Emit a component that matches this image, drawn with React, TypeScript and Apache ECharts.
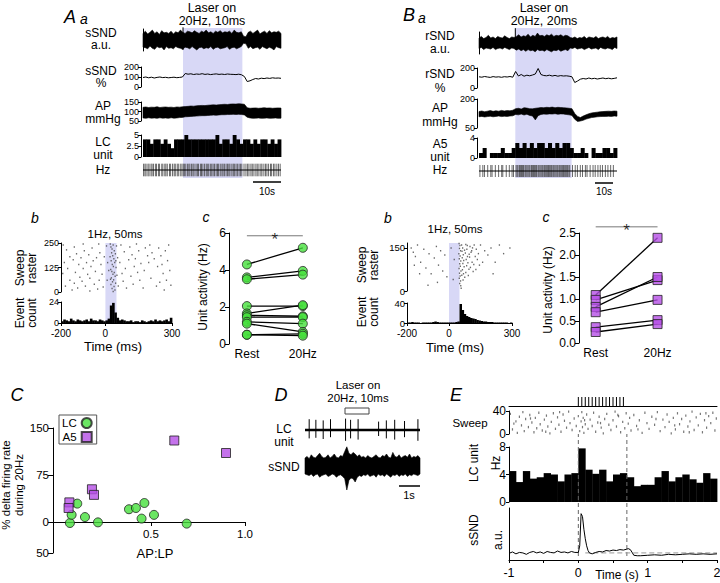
import React, { useEffect, useRef } from 'react';
import * as echarts from 'echarts';

const FONT = '"Liberation Sans", Arial, Helvetica, sans-serif';
const SHADE = '#d8d8f6';
const GREEN = '#46e03c';
const PURPLE = '#b54fe6';
const INK = '#000';

// ================= Panel A a (time 0..50 s) =================
const aaSpan = [0, 50];
const aaLaser = [14.5, 36];
const aaSndHi = [
  0.6, 0.8, 0.55, 0.7, 0.9, 0.6, 0.75, 0.5, 0.85, 0.65,
  0.7, 0.6, 0.8, 0.55, 0.75, 0.65, 0.9, 0.7, 0.6, 0.8,
  0.75, 0.65, 0.85, 0.7, 0.6, 0.8, 0.7, 0.9, 0.65, 0.75,
  0.6, 0.8, 0.7, 0.85, 0.65, 0.75, 0.7, 0.8, 0.6, 0.9,
  0.7, 0.65, 0.75, 0.35, 0.3, 0.7, 0.8, 0.6, 0.75, 0.9,
  0.55, 0.7, 0.8, 0.6, 0.85, 0.65, 0.75, 0.7, 0.8, 0.6];
const aaSndLo = [
  -0.65, -0.7, -0.8, -0.55, -0.75, -0.85, -0.6, -0.7, -0.65, -0.9,
  -0.6, -0.75, -0.7, -0.8, -0.6, -0.7, -0.75, -0.85, -0.65, -0.7,
  -0.8, -0.6, -0.75, -0.9, -0.7, -0.65, -0.8, -0.7, -0.75, -0.6,
  -0.85, -0.7, -0.65, -0.8, -0.75, -0.7, -0.6, -0.85, -0.7, -0.65,
  -0.8, -0.7, -0.6, -0.3, -0.35, -0.75, -0.6, -0.8, -0.7, -0.65,
  -0.85, -0.6, -0.7, -0.8, -0.65, -0.75, -0.9, -0.6, -0.7, -0.75];
const aaPct = [
  95, 100, 92, 98, 90, 96, 100, 94, 97, 92, 95, 98, 93, 96, 100,
  135, 128, 132, 125, 130, 127, 133, 126, 130, 124, 128, 131, 126, 129, 125, 130, 127, 126, 124, 128, 122, 105,
  55, 62, 75, 85, 80, 88, 84, 90, 86, 92, 88, 90, 87];
const aaApHi = [
  122, 124, 121, 123, 122, 125, 121, 123, 124, 122, 123, 121, 124, 123, 125,
  126, 127, 129, 128, 130, 131, 132, 131, 133, 134, 135, 134, 136, 137, 138, 137, 139, 140, 139, 141, 140, 138,
  120, 117, 118, 119, 117, 118, 120, 118, 119, 117, 118, 119, 118];
const aaApLo = [
  66, 64, 67, 65, 66, 64, 67, 65, 66, 64, 67, 65, 66, 68, 69,
  72, 73, 74, 75, 76, 77, 78, 78, 79, 80, 81, 80, 82, 83, 83, 84, 84, 85, 84, 85, 84, 82,
  70, 66, 64, 65, 66, 64, 65, 66, 64, 65, 66, 64, 65];
const aaLcBin = 1.25;
const aaLcHz = [4, 4, 3, 4, 4, 3, 4, 3, 2, 4, 4, 4, 5, 4, 4, 4, 4, 4, 4, 4, 4, 5, 3, 4, 4, 3, 5, 4, 3, 4, 4, 3, 4, 3, 4, 4, 3, 4, 3, 4];
const aaSpikes = [0.2, 0.7, 1.1, 1.8, 2.2, 2.9, 3.3, 3.8, 4.5, 4.9, 5.6, 6.0, 6.8, 7.2, 7.9, 8.3, 8.8, 9.6, 10.0, 10.7, 11.3, 11.7, 12.4, 12.8, 13.5, 14.1, 14.6, 15.0, 15.5, 16.1, 16.6, 17.0, 17.6, 18.1, 18.5, 19.2, 19.7, 20.1, 20.8, 21.2, 21.7, 22.3, 22.9, 23.3, 23.8, 24.4, 24.9, 25.4, 25.9, 26.5, 27.0, 27.4, 28.0, 28.6, 29.0, 29.5, 30.1, 30.6, 31.1, 31.5, 32.2, 32.7, 33.1, 33.7, 34.2, 34.8, 35.3, 35.8, 36.6, 37.3, 37.9, 38.4, 39.1, 39.6, 40.2, 40.9, 41.4, 42.0, 42.7, 43.1, 43.8, 44.4, 44.9, 45.5, 46.2, 46.6, 47.3, 47.8, 48.5, 49.1, 49.7];

// ================= Panel B a (time 0..76 s) =================
const baSpan = [0, 76];
const baLaser = [20, 51];
const baSndHi = [
  0.45, 0.6, 0.4, 0.5, 0.7, 0.45, 0.55, 0.4, 0.6, 0.5,
  0.45, 0.65, 0.5, 0.4, 0.55, 0.5, 0.6, 0.75, 0.55, 0.65,
  0.6, 0.8, 0.55, 0.7, 0.6, 0.9, 0.65, 0.7, 0.6, 0.75,
  0.65, 0.8, 0.6, 0.7, 0.65, 0.75, 0.6, 0.7, 0.65, 0.5,
  0.45, 0.55, 0.4, 0.5, 0.45, 0.6, 0.4, 0.55, 0.5, 0.45,
  0.6, 0.4, 0.5, 0.55, 0.45, 0.6, 0.4, 0.5, 0.45, 0.55];
const baSndLo = [
  -0.5, -0.4, -0.6, -0.45, -0.5, -0.55, -0.4, -0.6, -0.5, -0.45,
  -0.55, -0.4, -0.5, -0.6, -0.45, -0.5, -0.65, -0.55, -0.7, -0.6,
  -0.75, -0.6, -0.7, -0.65, -0.8, -0.6, -0.7, -0.65, -0.75, -0.6,
  -0.7, -0.8, -0.65, -0.7, -0.6, -0.75, -0.65, -0.6, -0.7, -0.45,
  -0.5, -0.4, -0.55, -0.5, -0.45, -0.6, -0.5, -0.4, -0.55, -0.5,
  -0.45, -0.6, -0.4, -0.5, -0.55, -0.45, -0.5, -0.6, -0.4, -0.5];
const baPct = [
  112, 108, 115, 110, 106, 114, 109, 112, 107, 113, 110, 115, 108,
  165, 120, 135, 118, 128, 122, 130, 140, 195, 135, 125, 122, 128, 120, 126, 118, 124, 120, 122, 118, 112,
  55, 70, 88, 95, 90, 100, 92, 97, 90, 95, 100, 93, 98, 92, 96, 102];
const baApHi = [
  135, 138, 134, 137, 140, 136, 139, 137, 141, 138, 140, 139, 142,
  150, 152, 148, 155, 153, 150, 149, 152, 154, 156, 155, 157, 156, 158, 155, 157, 156, 155, 154, 152, 150,
  125, 110, 104, 112, 118, 124, 128, 130, 132, 134, 135, 136, 137, 136, 138, 137];
const baApLo = [
  108, 110, 107, 109, 111, 108, 110, 112, 109, 111, 110, 112, 113,
  120, 118, 122, 117, 121, 115, 112, 92, 114, 120, 122, 121, 123, 122, 124, 121, 123, 122, 120, 118, 115,
  95, 84, 86, 90, 96, 100, 104, 106, 108, 109, 110, 110, 111, 110, 112, 111];
const baA5Bin = 2;
const baA5Hz = [1, 2, 0, 1, 1, 1, 2, 1, 1, 2, 3, 2, 3, 2, 3, 2, 3, 3, 2, 3, 2, 3, 2, 3, 3, 2, 1, 1, 2, 1, 0, 2, 1, 1, 2, 2, 1, 2];
const baSpikes = [0.5, 2.1, 3.0, 4.8, 6.5, 7.2, 9.0, 10.8, 12.5, 13.1, 15.0, 16.7, 18.2, 19.0,
  20.4, 21.0, 21.5, 22.3, 22.8, 23.4, 24.0, 24.5, 25.3, 25.8, 26.4, 27.0, 27.6, 28.1, 28.9, 29.4, 30.0, 30.6, 31.2, 31.7, 32.5, 33.0, 33.6, 34.2, 34.8, 35.3, 36.0, 36.5, 37.1, 37.8, 38.3, 38.9, 39.5, 40.0, 40.7, 41.2, 41.8, 42.4, 43.0, 43.5, 44.2, 44.7, 45.3, 45.9, 46.5, 47.0, 47.7, 48.3, 48.8, 49.5, 50.0,
  51.5, 53.0, 54.2, 55.8, 57.0, 58.6, 59.5, 61.2, 62.8, 64.0, 65.5, 66.8, 68.0, 69.6, 71.0, 72.5, 74.0];

// ================= Panel A b (ms, sweeps) =================
const abRaster = [
  [-190, 240], [-175, 215], [-160, 180], [-185, 150], [-170, 120], [-192, 95], [-160, 60], [-180, 30], [-150, 10], [-140, 230],
  [-130, 195], [-145, 165], [-120, 140], [-135, 100], [-115, 75], [-140, 45], [-125, 20], [-100, 245], [-95, 210], [-110, 175],
  [-85, 150], [-100, 120], [-80, 90], [-105, 55], [-90, 30], [-70, 5], [-60, 225], [-75, 190], [-55, 160], [-65, 130],
  [-45, 105], [-70, 70], [-50, 40], [-35, 15], [-30, 245], [-25, 200], [-40, 175], [-20, 140], [-15, 90], [-28, 60],
  [-10, 25], [-5, 180], [5, 235], [10, 150], [8, 60], [15, 110],
  [22, 245], [25, 230], [30, 220], [35, 240], [40, 210], [28, 200], [45, 195], [33, 185], [38, 170], [26, 160],
  [42, 150], [31, 140], [36, 130], [48, 125], [24, 115], [29, 105], [40, 100], [34, 90], [44, 80], [27, 72],
  [37, 62], [32, 52], [46, 45], [25, 38], [39, 28], [30, 18], [43, 10], [35, 3], [50, 235], [55, 175],
  [52, 85], [58, 30], [21, 180], [47, 160], [23, 65],
  [70, 240], [85, 205], [65, 150], [90, 120], [75, 95], [80, 55], [95, 20], [110, 230], [120, 190], [105, 165],
  [130, 130], [115, 80], [125, 40], [140, 245], [150, 210], [135, 170], [160, 145], [145, 100], [155, 60], [170, 20],
  [180, 225], [190, 185], [175, 110], [200, 240], [210, 200], [195, 150], [220, 170], [205, 70], [230, 30], [240, 225],
  [250, 185], [235, 130], [260, 95], [245, 50], [270, 210], [280, 160], [265, 10], [285, 240], [290, 110], [275, 60],
  [295, 35], [255, 140]];
const abBinStart = -200;
const abBinMs = 10;
const abCount = [2, 4, 3, 2, 5, 3, 2, 4, 3, 2, 3, 4, 2, 5, 3, 3, 2, 4, 3, 2, 3, 5, 20, 23, 12, 6, 3, 4, 3, 2, 2, 3, 1, 2, 2, 1, 3, 2, 1, 2, 3, 2, 4, 2, 3, 2, 3, 4, 2, 6];
const abLaser = [0, 50];

// ================= Panel A c =================
const acRest = [4.3, 3.6, 3.5, 2.05, 1.65, 1.55, 1.45, 1.2, 1.1, 0.5, 0.5];
const ac20Hz = [5.2, 3.95, 3.75, 2.05, 2.1, 1.5, 1.45, 1.1, 0.65, 0.55, 0.45];
const acSig = 5.85;

// ================= Panel B b =================
const bbRaster = [
  [-180, 150], [-170, 135], [-160, 120], [-150, 160], [-135, 100], [-120, 145], [-110, 80], [-95, 130], [-85, 60], [-70, 115],
  [-60, 155], [-50, 90], [-40, 140], [-30, 70], [-20, 125], [-10, 50], [-165, 90], [-140, 60], [-100, 20], [-55, 30],
  [10, 150], [25, 110], [20, 40],
  [48, 165], [52, 158], [50, 148], [55, 140], [47, 130], [53, 122], [49, 112], [56, 104], [51, 95], [54, 86],
  [48, 78], [57, 70], [50, 62], [53, 52], [49, 44], [55, 35], [51, 26], [56, 18], [60, 160], [65, 150],
  [62, 138], [68, 126], [63, 116], [70, 106], [66, 96], [72, 84], [64, 74], [69, 60], [75, 48], [67, 38],
  [80, 162], [85, 145], [78, 132], [88, 120], [82, 110], [90, 98], [84, 88], [95, 76], [80, 64], [92, 54],
  [100, 155], [105, 135], [98, 118], [110, 100], [102, 82], [115, 68], [108, 140], [120, 160], [125, 120], [118, 92],
  [130, 145], [135, 110], [128, 75], [140, 130], [150, 160], [160, 100], [145, 90], [58, 10], [61, 55], [74, 142],
  [87, 158], [96, 128], [112, 150],
  [170, 140], [185, 125], [200, 150], [220, 100], [240, 160], [260, 130], [290, 150], [210, 60]];
const bbCount = [1, 1, 2, 1, 1, 1, 0, 1, 1, 1, 1, 1, 2, 3, 2, 1, 1, 1, 1, 1, 1, 1, 1, 2, 3, 38, 26, 18, 14, 12, 10, 9, 8, 6, 5, 4, 3, 3, 2, 2, 2, 1, 1, 1, 1, 1, 1, 1, 0, 1];

// ================= Panel B c =================
const bcRest = [1.09, 0.98, 0.82, 0.7, 0.36, 0.25];
const bc20Hz = [2.39, 1.43, 1.5, 0.98, 0.52, 0.43];
const bcSig = 2.64;

// ================= Panel C =================
const cLcX = [0.069, 0.078, 0.108, 0.149, 0.218, 0.383, 0.42, 0.465, 0.45, 0.516, 0.69];
const cLcY = [-2, 11, 29, 7.5, -1, 20, 22, 30, 5, 11, -3];
const cA5X = [0.066, 0.062, 0.186, 0.197, 0.624, 0.899];
const cA5Y = [31, 22, 52, 43, 130, 110];

// ================= Panel D (0..5.5 s) =================
const dSpan = [0, 5.5];
const dSpikeT = [0.2, 0.52, 0.87, 1.22, 1.94, 2.18, 2.54, 3.52, 3.89, 4.29, 4.76, 5.4];
const dSpikeUp = [0.9, 0.85, 0.8, 0.9, 0.95, 0.85, 0.9, 0.7, 0.8, 0.85, 0.75, 0.9];
const dSpikeDn = [-0.7, -0.65, -0.75, -0.6, -0.9, -0.7, -0.8, -0.5, -0.7, -0.8, -0.6, -0.9];
const dBaseT = [0, 5.5];
const dBaseV = [0, 0];
const dSndHi = [0.5, 0.6, 0.45, 0.7, 0.55, 0.5, 0.65, 0.8, 0.6, 0.5, 0.55, 0.7, 0.5, 0.6, 0.75, 0.55, 0.5, 0.65, 0.6, 0.9, 1.2, 0.8, 0.7, 0.85, 0.75, 0.6, 0.7, 0.55, 0.6, 0.5, 0.65, 0.55, 0.5, 0.6, 0.7, 0.55, 0.5, 0.65, 0.6, 0.75, 0.55, 0.5, 0.85, 0.6, 0.55, 0.7, 0.5, 0.6, 0.65, 0.55, 0.75, 0.5, 0.6, 0.55, 0.65, 0.5];
const dSndLo = [-0.5, -0.55, -0.6, -0.5, -0.65, -0.55, -0.5, -0.7, -0.6, -0.55, -0.5, -0.65, -0.6, -0.5, -0.55, -0.7, -0.6, -0.55, -0.65, -0.8, -1.5, -0.9, -0.75, -0.8, -1.0, -0.7, -0.6, -0.65, -0.55, -0.6, -0.5, -0.65, -0.6, -0.55, -0.7, -0.5, -0.6, -0.55, -0.65, -0.5, -0.6, -0.7, -0.55, -0.6, -0.5, -0.65, -0.55, -0.6, -0.5, -0.65, -0.55, -0.6, -0.5, -0.55, -0.6, -0.5];

// ================= Panel E (-1..2 s) =================
const ePulses = [0, 0.05, 0.1, 0.15, 0.2, 0.25, 0.3, 0.35, 0.4, 0.45, 0.5, 0.55, 0.6, 0.65];
const eRaster = [
  [-0.98, 35], [-0.95, 8], [-0.9, 22], [-0.88, 2], [-0.85, 30], [-0.82, 15], [-0.8, 38], [-0.78, 5], [-0.76, 26],
  [-0.72, 12], [-0.7, 33], [-0.67, 20], [-0.64, 3], [-0.62, 28], [-0.6, 10], [-0.57, 37], [-0.55, 17], [-0.52, 6],
  [-0.49, 25], [-0.46, 32], [-0.44, 13], [-0.41, 1], [-0.39, 21], [-0.36, 36], [-0.33, 9], [-0.3, 29], [-0.28, 16],
  [-0.25, 4], [-0.22, 34], [-0.2, 23], [-0.17, 11], [-0.14, 39], [-0.12, 19], [-0.09, 7], [-0.06, 27], [-0.03, 14],
  [0.0, 31], [0.02, 5], [0.04, 22], [0.05, 38], [0.06, 12], [0.07, 28], [0.08, 2], [0.1, 17], [0.12, 34], [0.14, 9],
  [0.17, 25], [0.2, 14], [0.22, 37], [0.25, 4], [0.28, 20], [0.3, 30], [0.33, 11], [0.36, 1], [0.38, 26], [0.41, 35],
  [0.44, 16], [0.47, 7], [0.5, 24], [0.53, 39], [0.55, 13], [0.58, 31], [0.61, 3], [0.64, 21], [0.67, 10], [0.69, 36],
  [0.72, 18], [0.74, 28], [0.76, 6], [0.8, 33], [0.84, 14], [0.88, 24], [0.92, 2], [0.96, 37], [0.99, 19],
  [1.02, 9], [1.06, 30], [1.1, 16], [1.14, 38], [1.18, 5], [1.22, 25], [1.25, 12], [1.28, 34], [1.31, 21], [1.34, 1],
  [1.37, 28], [1.4, 8], [1.43, 36], [1.46, 17], [1.49, 26], [1.52, 4], [1.55, 32], [1.58, 13], [1.61, 22], [1.64, 39],
  [1.67, 7], [1.7, 29], [1.73, 15], [1.76, 35], [1.79, 3], [1.82, 24], [1.85, 11], [1.88, 31], [1.91, 19], [1.94, 37],
  [1.97, 6], [1.99, 27], [-0.93, 18], [-0.69, 27], [-0.47, 4], [-0.27, 38], [0.09, 24], [0.32, 19], [0.57, 33], [0.86, 8],
  [1.12, 26], [1.39, 15], [1.6, 3], [1.84, 36]];
const eBinStart = -1;
const eBin = 0.1;
const eRate = [4.5, 2.9, 4.5, 3.4, 3.6, 4.2, 4.0, 3.0, 4.0, 4.2, 7.8, 4.7, 4.1, 4.7, 3.0, 4.0, 4.2, 3.6, 2.3, 2.5, 2.5, 3.6, 4.5, 3.0, 3.6, 4.0, 3.3, 2.8, 4.2, 3.4];
const eTraceT = [-1, -0.95, -0.9, -0.85, -0.8, -0.75, -0.7, -0.65, -0.6, -0.55, -0.5, -0.45, -0.4, -0.35, -0.3, -0.25, -0.2, -0.15, -0.1, -0.05, 0, 0.02, 0.04, 0.06, 0.08, 0.1, 0.12, 0.14, 0.16, 0.2, 0.25, 0.3, 0.35, 0.4, 0.45, 0.5, 0.55, 0.6, 0.65, 0.7, 0.72, 0.75, 0.78, 0.8, 0.85, 0.9, 1.0, 1.1, 1.2, 1.3, 1.4, 1.5, 1.6, 1.7, 1.8, 1.9, 2.0];
const eTraceV = [1.4, 1.7, 1.3, 1.6, 1.5, 1.2, 1.6, 1.8, 1.5, 1.7, 1.4, 1.8, 1.6, 1.5, 1.9, 1.6, 1.7, 1.5, 1.8, 1.6, 1.6, 3.0, 9.8, 9.2, 6.5, 4.5, 3.0, 2.0, 1.5, 1.3, 1.6, 1.8, 1.7, 2.0, 1.9, 2.1, 2.0, 2.2, 2.1, 2.3, 2.4, 2.2, 1.5, 1.0, 0.9, 0.9, 1.0, 1.1, 1.0, 1.2, 1.1, 1.2, 1.3, 1.2, 1.3, 1.2, 1.3];
const eBaseT = [0.1, 2];
const eBaseV = [1.5, 1.5];
const eMarks = [0, 0.7];

// ================= helpers =================
const sampleTimes = (n: number, span: number[]) => Array.from({ length: n }, (_, i) => span[0] + ((span[1] - span[0]) * i) / (n - 1));

function axis(o: any): any {
  return {
    type: 'value',
    gridIndex: o.grid,
    position: o.position,
    min: o.min,
    max: o.max,
    interval: o.interval,
    offset: o.offset ?? 0,
    show: o.show !== false,
    axisLine: { show: !!o.line, onZero: false, lineStyle: { color: INK, width: 1 } },
    axisTick: o.ticks
      ? { show: true, length: o.tickLen ?? 3, inside: false, lineStyle: { color: INK, width: 1 }, ...(Array.isArray(o.ticks) ? { customValues: o.ticks } : {}) }
      : { show: false },
    axisLabel: o.labels
      ? {
          show: true, fontSize: o.fs ?? 9, color: INK, fontFamily: FONT, margin: o.margin ?? 2, hideOverlap: false,
          showMinLabel: true, showMaxLabel: true, formatter: o.fmt ?? ((v: number) => String(v)),
          ...(Array.isArray(o.labels) ? { customValues: o.labels } : {}),
        }
      : { show: false },
    splitLine: { show: false },
    splitArea: { show: false },
  };
}

export default function App() {
  const ref = useRef<HTMLDivElement>(null);
  useEffect(() => {
    document.body.style.margin = '0';
    const grids: any[] = [];
    const xAxes: any[] = [];
    const yAxes: any[] = [];
    const series: any[] = [];
    const addGrid = (left: number, top: number, width: number, height: number, x: any, y: any) => {
      const gi = grids.length;
      grids.push({ left, top, width, height, containLabel: false, outerBoundsMode: 'none', show: false });
      xAxes.push(axis({ ...x, grid: gi, position: 'bottom' }));
      yAxes.push(axis({ ...y, grid: gi, position: 'left' }));
      return gi;
    };
    const at = (gi: number) => ({ xAxisIndex: gi, yAxisIndex: gi, silent: true });
    const shade = (gi: number, x0: number, x1: number) => ({
      type: 'custom', ...at(gi), z: 0, data: [[x0, 0, x1, 1]], encode: { x: [0, 2], y: [1, 3] },
      renderItem: (_p: any, api: any) => {
        const a = api.coord([api.value(0), api.value(3)]);
        const b = api.coord([api.value(2), api.value(1)]);
        return { type: 'rect', shape: { x: a[0], y: a[1], width: b[0] - a[0], height: b[1] - a[1] }, style: { fill: SHADE } };
      },
    });
    const band = (gi: number, ts: number[], hi: number[], lo: number[], color = INK) => ({
      type: 'custom', ...at(gi), data: [[ts[0], hi[0]]],
      renderItem: (_p: any, api: any) => {
        const pts: number[][] = [];
        for (let i = 0; i < ts.length; i++) pts.push(api.coord([ts[i], hi[i]]));
        for (let i = ts.length - 1; i >= 0; i--) pts.push(api.coord([ts[i], lo[i]]));
        return { type: 'polygon', shape: { points: pts }, style: { fill: color, stroke: color, lineWidth: 0.6 } };
      },
    });
    const line = (gi: number, ts: number[], vs: number[], color = INK, width = 1, dash?: number[]) => ({
      type: 'line', ...at(gi), data: ts.map((t, i) => [t, vs[i]]), showSymbol: false, symbol: 'none', clip: false,
      lineStyle: { color, width, type: dash ? dash : 'solid' },
    });
    const bars = (gi: number, x0: number, w: number, vals: number[], color = INK) => ({
      type: 'custom', ...at(gi), data: vals.map((v, i) => [x0 + i * w, v]),
      renderItem: (_p: any, api: any) => {
        const s = api.value(0), v = api.value(1);
        const a = api.coord([s, v]);
        const b = api.coord([s + w, 0]);
        return { type: 'rect', shape: { x: a[0], y: a[1], width: b[0] - a[0] + 0.4, height: b[1] - a[1] }, style: { fill: color } };
      },
    });
    const ticks = (gi: number, times: number[], y0: number[] | number, y1: number[] | number, color = INK, width = 1, dash?: number[]) => ({
      type: 'custom', ...at(gi), encode: { x: 0, y: [1, 2] },
      data: times.map((t, i) => [t, Array.isArray(y0) ? y0[i] : y0, Array.isArray(y1) ? y1[i] : y1]),
      renderItem: (_p: any, api: any) => {
        const a = api.coord([api.value(0), api.value(1)]);
        const b = api.coord([api.value(0), api.value(2)]);
        return { type: 'line', shape: { x1: a[0], y1: a[1], x2: b[0], y2: b[1] }, style: { stroke: color, lineWidth: width, lineDash: dash } };
      },
    });
    const pairs = (gi: number, rest: number[], hz: number[]) => ({
      type: 'custom', ...at(gi), encode: { x: [0, 2], y: [1, 3] },
      data: rest.map((r, i) => [0, r, 1, hz[i]]),
      renderItem: (_p: any, api: any) => {
        const a = api.coord([api.value(0), api.value(1)]);
        const b = api.coord([api.value(2), api.value(3)]);
        return { type: 'line', shape: { x1: a[0], y1: a[1], x2: b[0], y2: b[1] }, style: { stroke: INK, lineWidth: 1.3 } };
      },
    });
    const dots = (gi: number, pts: number[][], size: number[], color: string) => ({
      type: 'scatter', ...at(gi), data: pts, symbol: 'rect', symbolSize: size, itemStyle: { color },
    });
    const markers = (gi: number, pts: number[][], symbol: string, color: string, name?: string, size = 9) => ({
      type: 'scatter', name, ...at(gi), data: pts, symbol, symbolSize: size, z: 5,
      itemStyle: { color, borderColor: '#222', borderWidth: 1 },
    });
    const star = (gi: number, x: number, y: number) => ({
      type: 'scatter', ...at(gi), data: [[x, y]], symbolSize: 2, z: 6, clip: false, itemStyle: { color: 'rgba(0,0,0,0)' },
      label: { show: true, position: 'inside', formatter: '*', fontSize: 17, color: INK, fontFamily: FONT, offset: [0, 4] },
    });
    const hid = (min: number, max: number) => ({ min, max, show: false });

    // ---- A a
    const aX = hid(0, 50);
    const gAaOv = addGrid(143, 28, 138, 150, aX, hid(0, 1));
    const gAaSnd = addGrid(143, 29, 138, 22, aX, { min: -1, max: 1, line: true });
    const gAaPct = addGrid(143, 67, 138, 20, aX, { min: 0, max: 200, line: true, ticks: [0, 100, 200], labels: [0, 100, 200], offset: 2 });
    const gAaAp = addGrid(143, 102, 138, 19, aX, { min: 50, max: 150, line: true, ticks: [50, 100, 150], labels: [50, 100, 150], offset: 2 });
    const gAaLc = addGrid(143, 135, 138, 22, aX, { min: 0, max: 5, line: true, ticks: [0, 2.5, 5], labels: [0, 2.5, 5], offset: 2 });
    const gAaHz = addGrid(143, 163, 138, 14, aX, hid(0, 1));
    series.push(shade(gAaOv, aaLaser[0], aaLaser[1]));
    series.push(band(gAaSnd, sampleTimes(aaSndHi.length, aaSpan), aaSndHi, aaSndLo));
    series.push(ticks(gAaSnd, [aaLaser[0]], -0.9, 1.15, INK, 1));
    series.push(line(gAaPct, sampleTimes(aaPct.length, aaSpan), aaPct, INK, 1));
    series.push(band(gAaAp, sampleTimes(aaApHi.length, aaSpan), aaApHi, aaApLo));
    series.push(bars(gAaLc, 0, aaLcBin, aaLcHz));
    series.push(ticks(gAaHz, aaSpikes, 0.05, 0.95, '#444', 0.8));
    series.push(line(gAaHz, aaSpan, [0.5, 0.5], INK, 1.2));

    // ---- B a
    const bX = hid(0, 76);
    const gBaOv = addGrid(479, 28, 138, 150, bX, hid(0, 1));
    const gBaSnd = addGrid(479, 32, 138, 22, bX, { min: -1, max: 1, line: true });
    const gBaPct = addGrid(479, 68, 138, 20, bX, { min: 0, max: 200, line: true, ticks: [0, 200], labels: [0, 200], offset: 2 });
    const gBaAp = addGrid(479, 99, 138, 29, bX, { min: 50, max: 200, line: true, ticks: [50, 200], labels: [50, 200], offset: 2 });
    const gBaA5 = addGrid(479, 138, 138, 20, bX, { min: 0, max: 4, line: true, ticks: [0, 4], labels: [0, 4], offset: 2 });
    const gBaHz = addGrid(479, 165, 138, 12, bX, hid(0, 1));
    series.push(shade(gBaOv, baLaser[0], baLaser[1]));
    series.push(band(gBaSnd, sampleTimes(baSndHi.length, baSpan), baSndHi, baSndLo));
    series.push(ticks(gBaSnd, [baLaser[0]], -0.6, 1.35, INK, 1));
    series.push(line(gBaPct, sampleTimes(baPct.length, baSpan), baPct, INK, 1));
    series.push(band(gBaAp, sampleTimes(baApHi.length, baSpan), baApHi, baApLo));
    series.push(bars(gBaA5, 0, baA5Bin, baA5Hz));
    series.push(ticks(gBaHz, baSpikes, 0.0, 1.0, '#444', 0.8));
    series.push(line(gBaHz, baSpan, [0.5, 0.5], INK, 1.2));

    // ---- A b
    const abX = hid(-200, 300);
    const gAbOv = addGrid(61, 243, 111, 80, abX, hid(0, 1));
    const gAbRas = addGrid(61, 243, 111, 49, abX, { min: 0, max: 250, line: true, ticks: [0, 125, 250], labels: [0, 125, 250], fs: 9 });
    const gAbHist = addGrid(61, 302, 111, 21,
      { min: -200, max: 300, line: true, ticks: [-200, 0, 300], labels: [-200, 0, 300], fs: 10, margin: 5 },
      { min: 0, max: 24, line: true, ticks: [0, 24], labels: [0, 24], fs: 9 });
    series.push(shade(gAbOv, abLaser[0], abLaser[1]));
    series.push(dots(gAbRas, abRaster, [1.3, 1.5], '#444'));
    series.push(bars(gAbHist, abBinStart, abBinMs, abCount));

    // ---- B b
    const gBbOv = addGrid(407, 243, 105, 80, abX, hid(0, 1));
    const gBbRas = addGrid(407, 243, 105, 48, abX, { min: 0, max: 167, line: true, ticks: [0, 150], labels: [0, 150], fs: 9.5 });
    const gBbHist = addGrid(407, 303, 105, 20,
      { min: -200, max: 300, line: true, ticks: [-200, 0, 300], labels: [-200, 0, 300], fs: 10, margin: 5 },
      { min: 0, max: 40, line: true, ticks: [0, 40], labels: [0, 40], fs: 9.5 });
    series.push(shade(gBbOv, abLaser[0], abLaser[1]));
    series.push(dots(gBbRas, bbRaster, [1.3, 1.5], '#444'));
    series.push(bars(gBbHist, abBinStart, abBinMs, bbCount));

    // ---- A c
    const catFmt = (v: number) => (v === 0 ? 'Rest' : '20Hz');
    const gAc = addGrid(229, 233, 85, 111,
      { min: -0.32, max: 1.2, labels: [0, 1], fmt: catFmt, fs: 12, margin: 4 },
      { min: 0, max: 6, line: true, ticks: [0, 2, 4, 6], labels: [0, 2, 4, 6], fs: 12, margin: 3, tickLen: 4 });
    series.push(pairs(gAc, acRest, ac20Hz));
    series.push(markers(gAc, acRest.map((v) => [0, v]), 'circle', GREEN, 'LC rest'));
    series.push(markers(gAc, ac20Hz.map((v) => [1, v]), 'circle', GREEN, 'LC 20Hz'));
    series.push(line(gAc, [0, 1], [acSig, acSig], '#555', 0.8));
    series.push(star(gAc, 0.5, acSig));

    // ---- B c
    const gBc = addGrid(579, 233, 94, 110,
      { min: -0.27, max: 1.25, labels: [0, 1], fmt: catFmt, fs: 12, margin: 4 },
      { min: 0, max: 2.5, line: true, ticks: [0, 0.5, 1, 1.5, 2, 2.5], labels: [0, 0.5, 1, 1.5, 2, 2.5], fmt: (v: number) => v.toFixed(1), fs: 12, margin: 3, tickLen: 4 });
    series.push(pairs(gBc, bcRest, bc20Hz));
    series.push(markers(gBc, bcRest.map((v) => [0, v]), 'rect', PURPLE, 'A5 rest'));
    series.push(markers(gBc, bc20Hz.map((v) => [1, v]), 'rect', PURPLE, 'A5 20Hz'));
    series.push(line(gBc, [0, 1], [bcSig, bcSig], '#555', 0.8));
    series.push(star(gBc, 0.5, bcSig));

    // ---- C (x axis drawn on a companion grid whose bottom is y = 0)
    addGrid(53, 428, 192, 94,
      { min: -0.021, max: 1.0, line: true, ticks: [0.5, 1.0], labels: [0.5, 1.0], fmt: (v: number) => v.toFixed(1), fs: 11.5, margin: 6, tickLen: 4 },
      hid(0, 150));
    const gC = addGrid(53, 428, 192, 125,
      hid(-0.021, 1.0),
      { min: -50, max: 150, line: true, ticks: [-50, 0, 75, 150], labels: [-50, 0, 75, 150], fmt: (v: number) => String(Math.abs(v)), fs: 11.5, margin: 4, tickLen: 5 });
    series.push(markers(gC, cLcX.map((x, i) => [x, cLcY[i]]), 'circle', GREEN, 'LC'));
    series.push(markers(gC, cA5X.map((x, i) => [x, cA5Y[i]]), 'rect', PURPLE, 'A5'));

    // ---- D
    const dX = hid(0, 5.5);
    const gDLc = addGrid(305, 418, 115, 24, dX, hid(-1, 1));
    const gDSnd = addGrid(305, 442, 115, 48, dX, hid(-1.5, 1.5));
    series.push(line(gDLc, dBaseT, dBaseV, INK, 2.6));
    series.push(ticks(gDLc, dSpikeT, dSpikeDn, dSpikeUp, INK, 1));
    series.push(band(gDSnd, sampleTimes(dSndHi.length, dSpan), dSndHi, dSndLo));

    // ---- E
    const eX = hid(-1, 2);
    const gEPulse = addGrid(509, 397, 208, 9, { min: -1, max: 2, line: true }, hid(0, 1));
    const gERas = addGrid(509, 411, 208, 23, eX, { min: 0, max: 40, line: true, ticks: [0, 40], labels: [0, 40], fs: 12, margin: 3 });
    const gEBar = addGrid(509, 447, 208, 55, eX, { min: 0, max: 8, line: true, ticks: [0, 4, 8], labels: [0, 4, 8], fs: 12, margin: 3 });
    const gETr = addGrid(509, 508, 208, 52,
      { min: -1, max: 2, interval: 0.5, line: true, ticks: true, labels: true, fmt: (v: number) => (Number.isInteger(v) ? String(v) : ''), fs: 12.5, margin: 6 },
      { min: 0, max: 11, line: true });
    const gEOv = addGrid(509, 434, 208, 122, eX, hid(0, 1));
    series.push(ticks(gEPulse, ePulses, 0, 1, INK, 1));
    series.push(dots(gERas, eRaster, [1.2, 2.4], '#555'));
    series.push(bars(gEBar, eBinStart, eBin, eRate));
    series.push(line(gETr, eBaseT, eBaseV, '#999', 1, [5, 3]));
    series.push(line(gETr, eTraceT, eTraceV, INK, 1));
    series.push(ticks(gEOv, eMarks, 0, 1, '#666', 1, [4, 3]));

    // ---- texts
    const txt = (x: number, y: number, text: string, size = 12, ex: any = {}) => ({
      type: 'text', x, y, rotation: ex.rot ? Math.PI / 2 : 0, silent: true, z: 100,
      style: {
        text, fontSize: size, fontFamily: FONT, fontStyle: ex.italic ? 'italic' : 'normal', fill: INK,
        textAlign: ex.align ?? 'center', align: ex.align ?? 'center', textVerticalAlign: 'middle', verticalAlign: 'middle',
        lineHeight: ex.lh ?? size + 1,
      },
    });
    const hline = (x1: number, x2: number, y: number, w = 1.5) => ({ type: 'line', silent: true, shape: { x1, y1: y, x2, y2: y }, style: { stroke: INK, lineWidth: w } });
    const graphic: any[] = [
      txt(64, 17, 'A', 18, { italic: true, align: 'left' }), txt(80, 19, 'a', 14, { italic: true, align: 'left' }),
      txt(212, 8, 'Laser on', 12.5), txt(212, 21, '20Hz, 10ms', 12.5),
      txt(101, 39, 'sSND\na.u.', 12, { lh: 12.5 }), txt(101, 77, 'sSND\n%', 12, { lh: 12.5 }),
      txt(103, 112, 'AP\nmmHg', 12, { lh: 13 }), txt(103, 148, 'LC\nunit', 12, { lh: 13 }), txt(103, 170, 'Hz', 12),
      hline(253, 281, 182), txt(267, 191, '10s', 10),

      txt(403, 15, 'B', 18, { italic: true, align: 'left' }), txt(418, 18, 'a', 14, { italic: true, align: 'left' }),
      txt(544, 8, 'Laser on', 12.5), txt(544, 21, '20Hz, 20ms', 12.5),
      txt(440, 42, 'rSND\na.u.', 12, { lh: 13 }), txt(440, 81, 'rSND\n%', 12, { lh: 14 }),
      txt(440, 115, 'AP\nmmHg', 12, { lh: 14 }), txt(440, 150, 'A5\nunit', 12, { lh: 13 }), txt(440, 170, 'Hz', 12),
      hline(595, 613, 183), txt(604, 191, '10s', 10),

      txt(35, 218, 'b', 14, { italic: true }), txt(115, 234, '1Hz, 50ms', 11.5),
      txt(26, 268, 'Sweep\nraster', 12, { rot: true, lh: 12 }), txt(26, 313, 'Event\ncount', 12, { rot: true, lh: 12 }),
      txt(113, 346, 'Time (ms)', 13),
      txt(206, 217, 'c', 14, { italic: true }), txt(203, 287, 'Unit activity (Hz)', 12, { rot: true }),

      txt(388, 218, 'b', 14, { italic: true }), txt(455, 229, '1Hz, 50ms', 11.5),
      txt(368, 265, 'Sweep\nraster', 12, { rot: true, lh: 12 }), txt(368, 312, 'Event\ncount', 12, { rot: true, lh: 12 }),
      txt(455, 347, 'Time (ms)', 13),
      txt(546, 217, 'c', 14, { italic: true }), txt(548, 290, 'Unit activity (Hz)', 12, { rot: true }),

      txt(17, 395, 'C', 18, { italic: true }),
      txt(12, 485, '% delta firing rate\nduring 20Hz', 11.5, { rot: true, lh: 13 }),
      txt(155, 553, 'AP:LP', 13),

      txt(281, 395, 'D', 18, { italic: true }),
      txt(358, 385, 'Laser on', 11.5), txt(358, 398, '20Hz, 10ms', 11.5),
      { type: 'rect', silent: true, shape: { x: 345, y: 408, width: 24, height: 6 }, style: { fill: '#fff', stroke: '#444', lineWidth: 1 } },
      txt(284, 435, 'LC\nunit', 12, { lh: 13 }), txt(284, 467, 'sSND', 12),
      hline(399, 420, 486), txt(409, 495, '1s', 11),

      txt(456, 395, 'E', 18, { italic: true }), txt(470, 423, 'Sweep', 11.5),
      txt(474, 463, 'LC unit', 12, { rot: true }), txt(496, 463, 'Hz', 12, { rot: true }),
      txt(474, 530, 'sSND', 12, { rot: true }), txt(498, 540, 'a.u.', 12, { rot: true }),
      txt(617, 575, 'Time (s)', 12),
    ];

    const chart = echarts.init(ref.current!, null, { renderer: 'svg', width: 720, height: 583 });
    chart.setOption({
      animation: false,
      backgroundColor: '#fff',
      textStyle: { fontFamily: FONT },
      grid: grids,
      xAxis: xAxes,
      yAxis: yAxes,
      series,
      legend: {
        show: true, data: [{ name: 'LC', icon: 'circle' }, { name: 'A5', icon: 'rect' }],
        orient: 'vertical', left: 59, top: 415, align: 'right', itemWidth: 10, itemHeight: 10, itemGap: 2,
        padding: [2, 4, 1, 3], borderColor: '#555', borderWidth: 1, selectedMode: false,
        textStyle: { fontSize: 11.5, color: INK, fontFamily: FONT },
      },
      graphic,
    });
    return () => chart.dispose();
  }, []);
  return <div ref={ref} style={{ position: 'absolute', left: 0, top: 0, width: 720, height: 583, background: '#fff' }} />;
}
